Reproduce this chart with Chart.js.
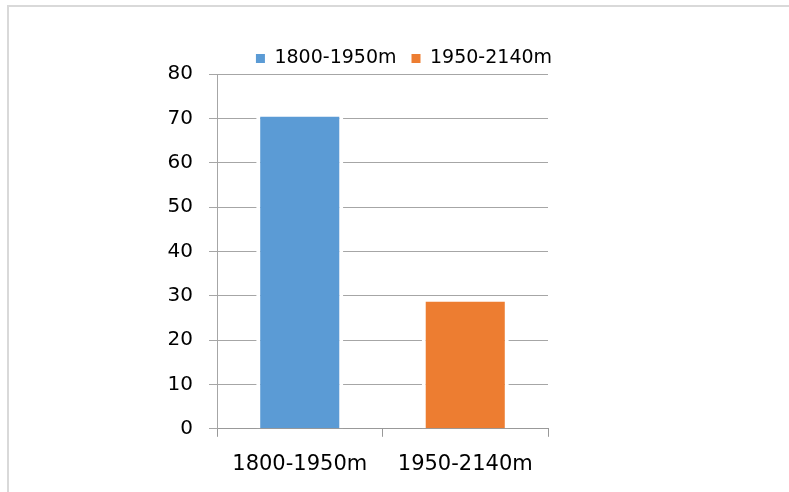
<!DOCTYPE html>
<html>
<head>
<meta charset="utf-8">
<script src="https://cdn.jsdelivr.net/npm/chart.js@4.4.1/dist/chart.umd.min.js"></script>
<style>
    html, body { margin: 0; padding: 0; background: #fff; }
    #frame {
        position: absolute; left: 7px; top: 5px; width: 782px; height: 487px;
        border-top: 2px solid #d9d9d9; border-left: 2px solid #d9d9d9;
        box-sizing: border-box;
    }
    #wrap { position: absolute; left: 0; top: 0; width: 789px; height: 492px; }
</style>
</head>
<body>
<div id="frame"></div>
<div id="wrap"><canvas id="chart" width="789" height="492"></canvas></div>
<script>
// Données du graphique
const categories = ['1800-1950m', '1950-2140m'];
const values = [70.4, 28.7];
const barColors = ['#5B9BD5', '#ED7D31'];
const yTicks = [0, 10, 20, 30, 40, 50, 60, 70, 80];

const gridColor = '#a6a6a6';

// Décaler la légende comme dans l'original
const legendShift = {
    id: 'legendShift',
    afterLayout(chart) {
        chart.legend.left += 130;
        chart.legend.right += 130;
        chart.legend.top += 4;
        chart.legend.bottom += 4;
    }
};

const ctx = document.getElementById('chart').getContext('2d');

new Chart(ctx, {
    type: 'bar',
    data: {
        labels: categories,
        datasets: [{
            data: values,
            backgroundColor: barColors,
            borderColor: '#ffffff',
            borderWidth: { left: 4, right: 4, top: 0, bottom: 0 },
            borderSkipped: 'bottom',
            barPercentage: 0.526,
            categoryPercentage: 1
        }]
    },
    options: {
        responsive: false,
        animation: false,
        layout: {
            padding: { left: 0, right: 241, top: 30, bottom: 0 }
        },
        plugins: {
            tooltip: { enabled: false },
            legend: {
                position: 'top',
                labels: {
                    color: '#595959',
                    font: { family: 'DejaVu Sans', size: 19 },
                    boxWidth: 9,
                    boxHeight: 9,
                    padding: 15,
                    generateLabels: function(chart) {
                        return categories.map((c, i) => ({
                            text: c,
                            fillStyle: barColors[i],
                            strokeStyle: barColors[i],
                            lineWidth: 0,
                            index: i
                        }));
                    }
                }
            }
        },
        scales: {
            x: {
                z: 1,
                grid: {
                    display: true,
                    drawOnChartArea: false,
                    drawTicks: true,
                    tickLength: 8,
                    color: '#999999',
                    offset: true
                },
                border: { display: true, color: '#999999', width: 1 },
                ticks: {
                    color: '#000000',
                    font: { family: 'DejaVu Sans', size: 21 },
                    padding: 15
                }
            },
            y: {
                min: 0,
                max: 80,
                afterFit: function(scale) { scale.width = 217; },
                afterBuildTicks: function(scale) {
                    scale.ticks = yTicks.map(v => ({ value: v }));
                },
                grid: {
                    color: gridColor,
                    drawTicks: true,
                    tickLength: 8
                },
                border: { display: true, color: gridColor, width: 1 },
                ticks: {
                    color: '#000000',
                    font: { family: 'DejaVu Sans', size: 20 },
                    padding: 16
                }
            }
        }
    },
    plugins: [legendShift]
});
</script>
</body>
</html>
